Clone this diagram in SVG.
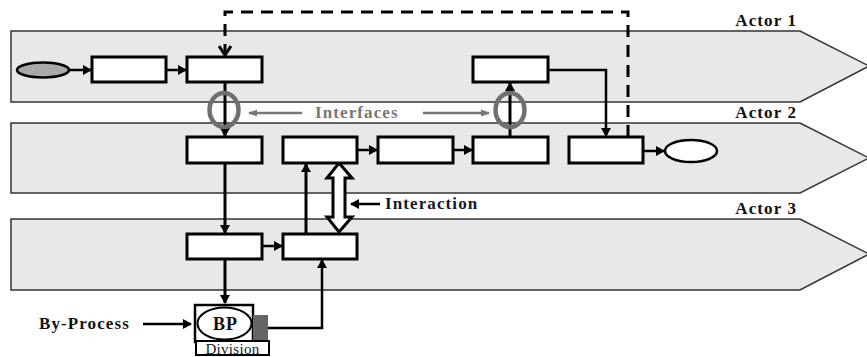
<svg xmlns="http://www.w3.org/2000/svg" width="867" height="357" viewBox="0 0 867 357">
<style>
.lane{fill:#e8e8e8;stroke:#333;stroke-width:1.5}
.box{fill:#fff;stroke:#000;stroke-width:3}
.lbl{font-family:"Liberation Serif","Times New Roman",serif;font-weight:bold;font-size:17px;letter-spacing:1.1px;fill:#111}
.c{fill:none;stroke:#000;stroke-width:3}
.c2{fill:none;stroke:#000;stroke-width:2.5}
.gr{fill:none;stroke:#777;stroke-width:2.5}
.ring{fill:none;stroke:#6f6f6f;stroke-width:4.5}
</style>
<defs>
<marker id="ah" markerWidth="10" markerHeight="10" refX="8" refY="5" orient="auto" markerUnits="userSpaceOnUse"><path d="M0,0 L9,5 L0,10 Z" fill="#000"/></marker>
<marker id="ag" markerWidth="10" markerHeight="10" refX="8" refY="5" orient="auto" markerUnits="userSpaceOnUse"><path d="M0,1.5 L9,5 L0,8.5 Z" fill="#777"/></marker>
<marker id="av" markerWidth="14" markerHeight="14" refX="11" refY="7" orient="auto" markerUnits="userSpaceOnUse"><path d="M2,1 L11,7 L2,13" fill="none" stroke="#000" stroke-width="3"/></marker>
</defs>
<g id="lanes">
<polygon class="lane" points="11,31 800,31 869,66 800,102 11,102"/>
<polygon class="lane" points="11,123 800,123 869,158 800,193 11,193"/>
<polygon class="lane" points="11,219 800,219 869,254 800,290 11,290"/>
<text class="lbl" x="797" y="26" text-anchor="end">Actor 1</text>
<text class="lbl" x="797" y="118" text-anchor="end">Actor 2</text>
<text class="lbl" x="797" y="214" text-anchor="end">Actor 3</text>
</g>
<g id="connectors">
<path class="c" d="M628,137 V12 H225 V55" stroke-dasharray="12,8" marker-end="url(#av)"/>
<line class="c2" x1="70" y1="70" x2="91" y2="70" marker-end="url(#ah)"/>
<line class="c2" x1="166" y1="70" x2="186" y2="70" marker-end="url(#ah)"/>
<line class="c" x1="225" y1="82" x2="225" y2="136" marker-end="url(#ah)"/>
<line class="c" x1="510" y1="137" x2="510" y2="83" marker-end="url(#ah)"/>
<path class="c2" d="M548,70 H606 V136" marker-end="url(#ah)"/>
<line class="c2" x1="357" y1="150" x2="377" y2="150" marker-end="url(#ah)"/>
<line class="c2" x1="453" y1="150" x2="472" y2="150" marker-end="url(#ah)"/>
<line class="c2" x1="643" y1="151" x2="664" y2="151" marker-end="url(#ah)"/>
<line class="c" x1="225" y1="163" x2="225" y2="233" marker-end="url(#ah)"/>
<line class="c2" x1="262" y1="246" x2="282" y2="246" marker-end="url(#ah)"/>
<line class="c" x1="306" y1="234" x2="306" y2="164" marker-end="url(#ah)"/>
<line class="c" x1="225" y1="259" x2="225" y2="303" marker-end="url(#ah)"/>
<path class="c2" d="M268,328 H322 V260" marker-end="url(#ah)"/>
<line class="c2" x1="143" y1="324" x2="191" y2="324" marker-end="url(#ah)"/>
<line class="c2" x1="380" y1="204" x2="351" y2="204" marker-end="url(#ah)"/>
<polygon points="339,163 352,178 345,178 345,217 352,217 339,232 327,217 333,217 333,178 327,178" fill="#fff" stroke="#000" stroke-width="3" stroke-linejoin="miter"/>
<ellipse class="ring" cx="224" cy="110" rx="14.5" ry="17"/>
<ellipse class="ring" cx="510" cy="110" rx="14.5" ry="17"/>
<line class="gr" x1="302" y1="113" x2="249" y2="113" marker-end="url(#ag)"/>
<line class="gr" x1="423" y1="113" x2="489" y2="113" marker-end="url(#ag)"/>
<text class="lbl" x="315" y="118" style="fill:#777">Interfaces</text>
<text class="lbl" x="385" y="209" style="fill:#111a2a">Interaction</text>
<text class="lbl" x="39" y="329">By-Process</text>
</g>
<g id="start"><ellipse cx="43" cy="70" rx="26" ry="7.5" fill="#a9a9a9" stroke="#000" stroke-width="2.5"/></g>
<g id="a1b1"><rect class="box" x="92" y="57" width="74" height="25"/></g>
<g id="a1b2"><rect class="box" x="187" y="57" width="75" height="25"/></g>
<g id="a1b3"><rect class="box" x="473" y="57" width="75" height="25"/></g>
<g id="a2b1"><rect class="box" x="187" y="137" width="75" height="26"/></g>
<g id="a2b2"><rect class="box" x="283" y="137" width="74" height="26"/></g>
<g id="a2b3"><rect class="box" x="378" y="137" width="75" height="26"/></g>
<g id="a2b4"><rect class="box" x="473" y="137" width="75" height="26"/></g>
<g id="a2b5"><rect class="box" x="569" y="137" width="74" height="26"/></g>
<g id="end"><ellipse cx="691" cy="151" rx="26" ry="11" fill="#fff" stroke="#000" stroke-width="2.5"/></g>
<g id="a3b1"><rect class="box" x="187" y="234" width="75" height="25"/></g>
<g id="a3b2"><rect class="box" x="283" y="234" width="74" height="25"/></g>
<g id="bp">
<rect x="195" y="305" width="58" height="37" fill="#fff" stroke="#000" stroke-width="2.5"/>
<rect x="253" y="315" width="15" height="25" fill="#666"/>
<ellipse cx="224.5" cy="323.5" rx="27" ry="16" fill="#fff" stroke="#000" stroke-width="2"/>
<text class="lbl" x="225.5" y="329.5" text-anchor="middle" style="font-size:18px;letter-spacing:1px">BP</text>
<rect x="196" y="341" width="73" height="14" fill="#fff" stroke="#000" stroke-width="2"/>
<text x="232.5" y="353.5" text-anchor="middle" font-family="Liberation Serif, serif" font-size="15" letter-spacing="0.3" fill="#111a2a">Division</text>
</g>
</svg>
